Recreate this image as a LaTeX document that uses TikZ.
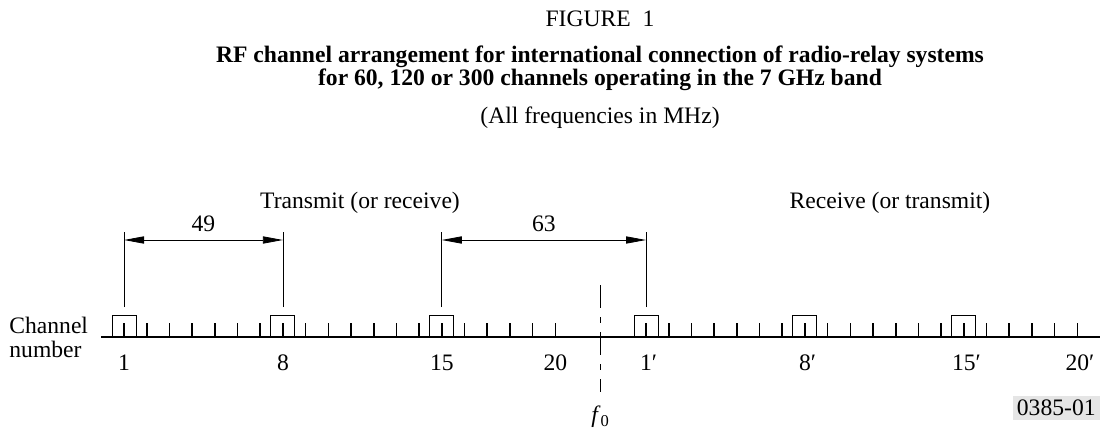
\documentclass[tikz,border=0pt]{standalone}
\usepackage{fontspec}
\setmainfont{Liberation Serif}
\usetikzlibrary{arrows.meta}
\tikzset{
  lbl/.style={font=\fontsize{11.8}{12}\selectfont,inner sep=0pt},
  chbox/.style={draw,line width=0.5pt,minimum width=12pt,minimum height=10.5pt,inner sep=0pt,anchor=south},
  chtick/.style={line width=0.8pt},
  dimline/.style={line width=0.4pt,{Triangle[length=10pt,width=3.6pt]}-{Triangle[length=10pt,width=3.6pt]}},
}

\begin{document}
\begin{tikzpicture}[x=0.5pt,y=-0.5pt]
\useasboundingbox (0,0) rectangle (1100,428);
% headings
\node[lbl] (fig) at (600,19) {FIGURE\ \ 1};
\node[lbl,font=\bfseries\fontsize{11.8}{11.5}\selectfont,align=center] (title) at (600,68.5) {RF channel arrangement for international connection of radio-relay systems\\for 60, 120 or 300 channels operating in the 7 GHz band};
\node[lbl] (units) at (600,118) {(All frequencies in MHz)};
% channel axis
\draw[line width=1pt] (101,337) -- (1100,337);
\foreach \x in {124,646}
  \foreach \k in {0,...,19}
    \draw[chtick] ({\x+22.7*\k},337) -- ++(0,-14);
\foreach \n/\x in {c1/124,c8/282.9,c15/441.8,c1p/646,c8p/804.9,c15p/963.8}
  \node[chbox] (\n) at (\x,337) {};
\node[lbl,align=left,anchor=west] (chname) at (9,337) {Channel\\number};
\foreach \x/\t in {124/1,282.9/8,441.8/15,555.3/20}
  \node[lbl] at (\x,363) {\t};
\foreach \x/\t in {646/1,804.9/8,963.8/15,1077.3/20}
  \node[lbl] at (\x,363) {\t\rlap{′}};
% centre frequency
\coordinate (f0top) at (600.7,285);
\coordinate (f0bot) at (600.7,392);
\draw[line width=0.5pt,dash pattern=on 11.5pt off 4.5pt on 3pt off 4.5pt] (f0top) -- (f0bot);
\node[lbl] (f0) at (600.7,417) {\textit{f}\textsubscript{0}};
% spacings
\coordinate (dimy) at (0,240);
\foreach \n in {c1,c8,c15,c1p}
  \draw[line width=0.4pt] ([yshift=4pt]\n.north) -- ++(0,-75);
\draw[dimline] (c1 |- dimy) -- (c8 |- dimy) node[midway,lbl,above=4pt] {49};
\draw[dimline] (c15 |- dimy) -- (c1p |- dimy) node[midway,lbl,above=4pt] {63};
\node[lbl] (tx) at (360,203) {Transmit (or receive)};
\node[lbl] (rx) at (890,203) {Receive (or transmit)};
\node[lbl,fill=gray!20,inner sep=2pt,anchor=east] (ref) at (1100,408) {0385-01};
\end{tikzpicture}
\end{document}
